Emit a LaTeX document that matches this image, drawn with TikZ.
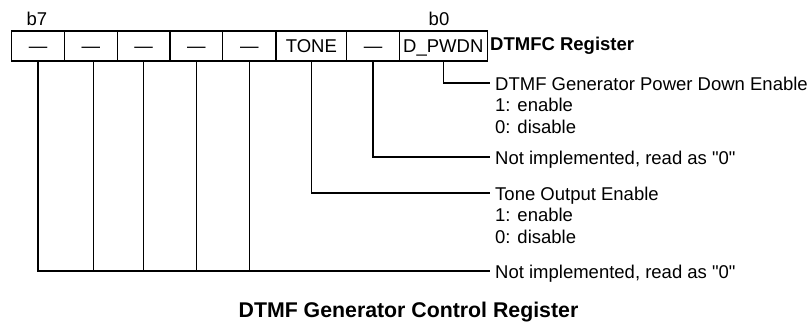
\documentclass[tikz,border=0pt]{standalone}
\usepackage{fontspec}
\setmainfont{Liberation Sans}
\begin{document}
\begin{tikzpicture}[x=1pt,y=-1pt,
  cell/.style={draw, line width=1.2pt, minimum height=30pt, inner sep=0pt, outer sep=0pt,
    anchor=north west, text height=13.2pt, text depth=0pt,
    font=\fontsize{18.5}{20}\selectfont},
  conn/.style={line width=1.2pt},
  desc/.style={anchor=north west, inner sep=0pt, align=left,
    font=\fontsize{18.5}{21.7}\selectfont},
  bitlbl/.style={inner sep=0pt, font=\fontsize{18.5}{20}\selectfont},
  regname/.style={anchor=west, inner sep=0pt, font=\fontsize{18.5}{20}\selectfont\bfseries},
  title/.style={inner sep=0pt, font=\fontsize{21.3}{24}\selectfont\bfseries}]
\useasboundingbox (0,0) rectangle (811,323);
% register cells
\node[cell, minimum width=52.6pt] (c7) at (11.7,31) {—};
\node[cell, minimum width=53pt] (c6) at (c7.north east) {—};
\node[cell, minimum width=52.7pt] (c5) at (c6.north east) {—};
\node[cell, minimum width=52.7pt] (c4) at (c5.north east) {—};
\node[cell, minimum width=53.3pt] (c3) at (c4.north east) {—};
\node[cell, minimum width=70.7pt] (c2) at (c3.north east) {TONE};
\node[cell, minimum width=52.6pt] (c1) at (c2.north east) {—};
\node[cell, minimum width=88pt] (c0) at (c1.north east) {D\_PWDN};
% bit labels and register name
\node[bitlbl] (b7) at (37,18.5) {b7};
\node[bitlbl] (b0) at (439,18.5) {b0};
\node[regname] (rn) at ([xshift=2.7pt]c0.east) {DTMFC Register};
% connector ends
\coordinate (pw) at (490,83);
\coordinate (ni1) at (490,157);
\coordinate (tn) at (490,193);
\coordinate (nib) at (490,271);
% connectors
\draw[conn] (c0.south) |- (pw);
\draw[conn] (c1.south) |- (ni1);
\draw[conn] (c2.south) |- (tn);
\draw[conn] (c7.south) |- (nib);
\draw[conn] ([xshift=2.5pt]c6.south) -- ([xshift=2.5pt]c6.south |- nib);
\draw[conn] (c5.south) -- (c5.south |- nib);
\draw[conn] (c4.south) -- (c4.south |- nib);
\draw[conn] (c3.south) -- (c3.south |- nib);
% descriptions
\node[desc] (dpw) at (495,76.4) {DTMF Generator Power Down Enable\\1: enable\\0: disable};
\node[desc] (dni1) at (495,150.4) {Not implemented, read as \textquotedbl0\textquotedbl};
\node[desc] (dtn) at (495,186.4) {Tone Output Enable\\1: enable\\0: disable};
\node[desc] (dnib) at (495,264.4) {Not implemented, read as \textquotedbl0\textquotedbl};
% title
\node[title] (ttl) at (408.5,312) {DTMF Generator Control Register};
\end{tikzpicture}
\end{document}
